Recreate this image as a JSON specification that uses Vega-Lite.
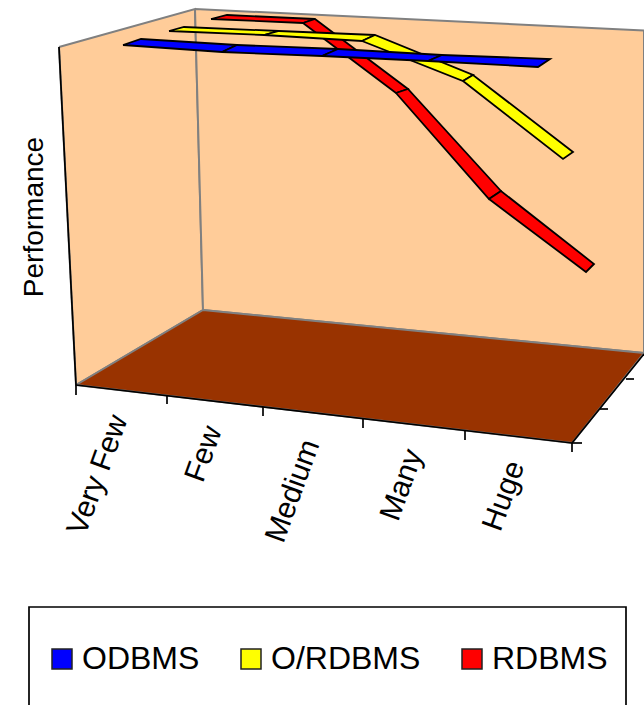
{
"$schema":"https://vega.github.io/schema/vega-lite/v6.json",
"width":644,"height":705,"padding":0,"autosize":"none","background":"white",
"view":{"stroke":null},
"datasets":{
"surfaces":[
{"part":"left wall","v":1,"x":59,"y":47},{"part":"left wall","v":2,"x":195,"y":9},{"part":"left wall","v":3,"x":203,"y":310},{"part":"left wall","v":4,"x":76,"y":385},{"part":"left wall","v":5,"x":59,"y":47},
{"part":"back wall","v":1,"x":195,"y":9},{"part":"back wall","v":2,"x":644,"y":30.5},{"part":"back wall","v":3,"x":644,"y":353},{"part":"back wall","v":4,"x":203,"y":310},{"part":"back wall","v":5,"x":195,"y":9}],
"floor":[{"v":1,"x":76,"y":385},{"v":2,"x":203,"y":310},{"v":3,"x":644,"y":353},{"v":4,"x":572,"y":443},{"v":5,"x":76,"y":385}],
"edges":[
{"id":"left","v":1,"x":59,"y":47},{"id":"left","v":2,"x":76,"y":385},
{"id":"front","v":1,"x":76,"y":385},{"id":"front","v":2,"x":572,"y":443},
{"id":"right","v":1,"x":572,"y":443},{"id":"right","v":2,"x":644,"y":354},
{"id":"t1","v":1,"x":76,"y":385},{"id":"t1","v":2,"x":76,"y":395},
{"id":"t2","v":1,"x":167,"y":396},{"id":"t2","v":2,"x":167,"y":404},
{"id":"t3","v":1,"x":263,"y":407},{"id":"t3","v":2,"x":263,"y":416},
{"id":"t4","v":1,"x":363,"y":419},{"id":"t4","v":2,"x":363,"y":428},
{"id":"t5","v":1,"x":465,"y":431},{"id":"t5","v":2,"x":465,"y":440},
{"id":"t6","v":1,"x":572,"y":443},{"id":"t6","v":2,"x":572,"y":452},
{"id":"d1","v":1,"x":572,"y":443},{"id":"d1","v":2,"x":582,"y":443},
{"id":"d2","v":1,"x":600,"y":409},{"id":"d2","v":2,"x":608,"y":409},
{"id":"d3","v":1,"x":626,"y":379},{"id":"d3","v":2,"x":634,"y":379}],
"frame":[{"v":1,"x":29,"y":705},{"v":2,"x":29,"y":607},{"v":3,"x":626,"y":607},{"v":4,"x":626,"y":705}],
"ribbons":[
{"series":"RDBMS","seg":"R1","v":1,"x":211,"y":19},{"series":"RDBMS","seg":"R1","v":2,"x":227,"y":15},{"series":"RDBMS","seg":"R1","v":3,"x":315,"y":19},{"series":"RDBMS","seg":"R1","v":4,"x":303,"y":23},{"series":"RDBMS","seg":"R1","v":5,"x":211,"y":19},
{"series":"RDBMS","seg":"R2","v":1,"x":303,"y":23},{"series":"RDBMS","seg":"R2","v":2,"x":315,"y":19},{"series":"RDBMS","seg":"R2","v":3,"x":408,"y":89},{"series":"RDBMS","seg":"R2","v":4,"x":396,"y":93},{"series":"RDBMS","seg":"R2","v":5,"x":303,"y":23},
{"series":"RDBMS","seg":"R3","v":1,"x":396,"y":93},{"series":"RDBMS","seg":"R3","v":2,"x":408,"y":89},{"series":"RDBMS","seg":"R3","v":3,"x":501,"y":191},{"series":"RDBMS","seg":"R3","v":4,"x":489,"y":199},{"series":"RDBMS","seg":"R3","v":5,"x":396,"y":93},
{"series":"RDBMS","seg":"R4","v":1,"x":489,"y":199},{"series":"RDBMS","seg":"R4","v":2,"x":501,"y":191},{"series":"RDBMS","seg":"R4","v":3,"x":594,"y":264},{"series":"RDBMS","seg":"R4","v":4,"x":586,"y":272},{"series":"RDBMS","seg":"R4","v":5,"x":489,"y":199},
{"series":"O/RDBMS","seg":"Y1","v":1,"x":169,"y":31},{"series":"O/RDBMS","seg":"Y1","v":2,"x":184,"y":27},{"series":"O/RDBMS","seg":"Y1","v":3,"x":279,"y":31},{"series":"O/RDBMS","seg":"Y1","v":4,"x":264,"y":35},{"series":"O/RDBMS","seg":"Y1","v":5,"x":169,"y":31},
{"series":"O/RDBMS","seg":"Y2","v":1,"x":264,"y":35},{"series":"O/RDBMS","seg":"Y2","v":2,"x":279,"y":31},{"series":"O/RDBMS","seg":"Y2","v":3,"x":375,"y":35},{"series":"O/RDBMS","seg":"Y2","v":4,"x":362,"y":41},{"series":"O/RDBMS","seg":"Y2","v":5,"x":264,"y":35},
{"series":"O/RDBMS","seg":"Y3","v":1,"x":362,"y":41},{"series":"O/RDBMS","seg":"Y3","v":2,"x":375,"y":35},{"series":"O/RDBMS","seg":"Y3","v":3,"x":473,"y":75},{"series":"O/RDBMS","seg":"Y3","v":4,"x":463,"y":81},{"series":"O/RDBMS","seg":"Y3","v":5,"x":362,"y":41},
{"series":"O/RDBMS","seg":"Y4","v":1,"x":463,"y":81},{"series":"O/RDBMS","seg":"Y4","v":2,"x":473,"y":75},{"series":"O/RDBMS","seg":"Y4","v":3,"x":573,"y":152},{"series":"O/RDBMS","seg":"Y4","v":4,"x":563,"y":159},{"series":"O/RDBMS","seg":"Y4","v":5,"x":463,"y":81},
{"series":"ODBMS","seg":"B1","v":1,"x":123,"y":45},{"series":"ODBMS","seg":"B1","v":2,"x":141,"y":39},{"series":"ODBMS","seg":"B1","v":3,"x":237,"y":45},{"series":"ODBMS","seg":"B1","v":4,"x":222,"y":52},{"series":"ODBMS","seg":"B1","v":5,"x":123,"y":45},
{"series":"ODBMS","seg":"B2","v":1,"x":222,"y":52},{"series":"ODBMS","seg":"B2","v":2,"x":237,"y":45},{"series":"ODBMS","seg":"B2","v":3,"x":338,"y":49},{"series":"ODBMS","seg":"B2","v":4,"x":322,"y":56},{"series":"ODBMS","seg":"B2","v":5,"x":222,"y":52},
{"series":"ODBMS","seg":"B3","v":1,"x":322,"y":56},{"series":"ODBMS","seg":"B3","v":2,"x":338,"y":49},{"series":"ODBMS","seg":"B3","v":3,"x":442,"y":55},{"series":"ODBMS","seg":"B3","v":4,"x":428,"y":61},{"series":"ODBMS","seg":"B3","v":5,"x":322,"y":56},
{"series":"ODBMS","seg":"B4","v":1,"x":428,"y":61},{"series":"ODBMS","seg":"B4","v":2,"x":442,"y":55},{"series":"ODBMS","seg":"B4","v":3,"x":550,"y":59},{"series":"ODBMS","seg":"B4","v":4,"x":538,"y":67},{"series":"ODBMS","seg":"B4","v":5,"x":428,"y":61}],
"categories":[{"label":"Very Few","x":98,"y":475},{"label":"Few","x":204,"y":454},{"label":"Medium","x":293,"y":491},{"label":"Many","x":402,"y":485},{"label":"Huge","x":504,"y":496}],
"ytitle":[{"label":"Performance","x":35,"y":217}]
},
"encoding":{
"x":{"field":"x","type":"quantitative","scale":{"domain":[0,644],"nice":false,"zero":false},"axis":null},
"y":{"field":"y","type":"quantitative","scale":{"domain":[0,705],"reverse":true,"nice":false,"zero":false},"axis":null}
},
"layer":[
{"data":{"name":"surfaces"},"mark":{"type":"line","fill":"#FFCC99","stroke":"#808080","strokeWidth":2,"clip":true},"encoding":{"detail":{"field":"part"},"order":{"field":"v"}}},
{"data":{"name":"floor"},"mark":{"type":"line","fill":"#993300","stroke":"#808080","strokeWidth":2,"clip":true},"encoding":{"order":{"field":"v"}}},
{"data":{"name":"edges"},"mark":{"type":"line","stroke":"#000000","strokeWidth":1.7,"clip":true},"encoding":{"detail":{"field":"id"},"order":{"field":"v"}}},
{"data":{"name":"frame"},"mark":{"type":"line","stroke":"#000000","strokeWidth":1.7},"encoding":{"order":{"field":"v"}}},
{"data":{"name":"ribbons"},"mark":{"type":"line","stroke":"#000000","strokeWidth":1.8,"strokeJoin":"miter"},
 "encoding":{"detail":{"field":"seg"},"order":{"field":"v"},
 "fill":{"field":"series","type":"nominal","scale":{"domain":["ODBMS","O/RDBMS","RDBMS"],"range":["#0000FF","#FFFF00","#FF0000"]},
 "legend":{"title":null,"orient":"none","legendX":46,"legendY":643,"direction":"horizontal","columns":3,"symbolType":"square","symbolSize":400,"symbolStrokeColor":"#222222","symbolStrokeWidth":1.5,"labelFont":"Liberation Sans","labelFontSize":32,"labelColor":"#000000","labelOffset":4,"columnPadding":35,"padding":0,"rowPadding":0,"labelLimit":300}}}},
{"data":{"name":"categories"},"mark":{"type":"text","font":"Liberation Sans","fontSize":30,"angle":290,"align":"center","baseline":"middle","color":"#000000"},"encoding":{"text":{"field":"label"}}},
{"data":{"name":"ytitle"},"mark":{"type":"text","font":"Liberation Sans","fontSize":28,"angle":270,"align":"center","baseline":"middle","color":"#000000"},"encoding":{"text":{"field":"label"}}}
]
}
